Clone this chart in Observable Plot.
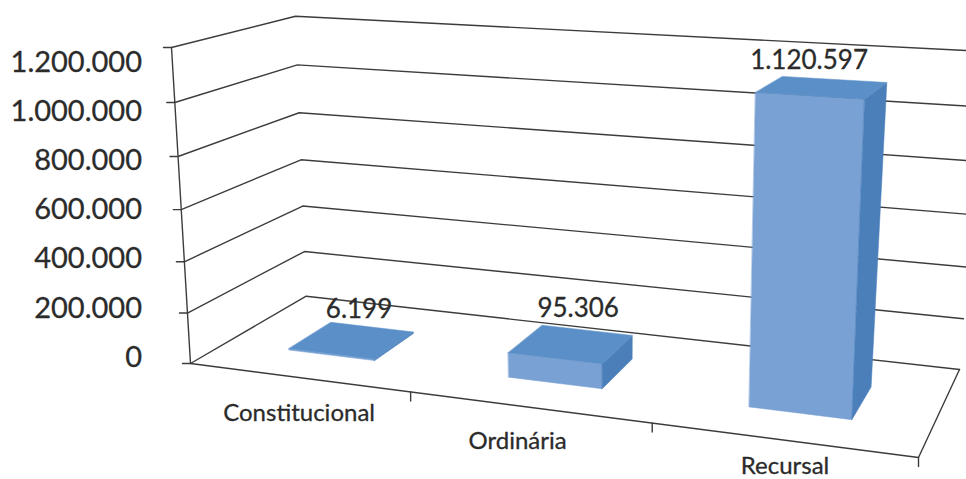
<!DOCTYPE html>
<html><head><meta charset="utf-8">
<style>html,body{margin:0;padding:0;background:#fff}svg{display:block}</style>
<script src="https://cdn.jsdelivr.net/npm/d3@7"></script>
<script src="https://cdn.jsdelivr.net/npm/@observablehq/plot@0.6"></script>
</head><body><div id="chart"></div>
<script>
const categories = ["Constitucional", "Ordinária", "Recursal"];
const values = [6199, 95306, 1120597];
const valueLabels = ["6.199", "95.306", "1.120.597"];
const axisValues = [0, 200000, 400000, 600000, 800000, 1000000, 1200000];
const axisLabels = ["0", "200.000", "400.000", "600.000", "800.000", "1.000.000", "1.200.000"];

// Scene: the 3D box of the chart seen in perspective (front/back, floor/ceiling corners)
const floorQuad = [[190,363],[918,457],[959,369],[305.7,295.7]];
const ceilQuad  = [[171,47],[935,93],[984,51],[295,15.7]];
const vMax = 1200000, vWarp = 0.053;
const barU = [0.3, 0.7], barW = [0.29, 0.67];
const valueLabelShift = [[7,-30],[7,-35],[-13,-27]];
const catLabelShift = [[1,36],[-11,34],[3,26]];

function homography(q) {
  const [[x0,y0],[x1,y1],[x2,y2],[x3,y3]] = q;
  const dx1=x1-x2, dx2=x3-x2, sx=x0-x1+x2-x3, dy1=y1-y2, dy2=y3-y2, sy=y0-y1+y2-y3;
  const det=dx1*dy2-dx2*dy1, g=(sx*dy2-dx2*sy)/det, h=(dx1*sy-sx*dy1)/det;
  const a=x1-x0+g*x1, b=x3-x0+h*x3, d=y1-y0+g*y1, e=y3-y0+h*y3;
  return (u,w)=>{const m=g*u+h*w+1; return [(a*u+b*w+x0)/m,(d*u+e*w+y0)/m];};
}
const hFloor = homography(floorQuad), hCeil = homography(ceilQuad);
function project(u, value, w) {
  const t = value/vMax, k = t/(1+vWarp*(1-t));
  const a = hFloor(u,w), b = hCeil(u,w);
  return [a[0]+(b[0]-a[0])*k, a[1]+(b[1]-a[1])*k];
}
const pts = (list) => list.map(([x,y]) => ({x,y}));
const line = (list, o={}) => Plot.line(pts(list), {x:"x", y:"y", stroke:"#3c3c3c", strokeWidth:1.4, ...o});
const face = (list, fill) => Plot.line(pts(list), {x:"x", y:"y", fill, stroke:fill, strokeWidth:0.5, curve:"linear-closed"});

const n = categories.length;
const marks = [];
// gridlines on left and back walls, with ticks
for (const v of axisValues) {
  const a = project(0,v,0);
  marks.push(line([[a[0]-8,a[1]], a, project(0,v,1), project(1,v,1)]));
}
marks.push(line([project(0,0,0), project(0,vMax,0)]));
const fr = project(1,0,0);
marks.push(line([project(0,0,0), fr, project(1,0,1)]));
for (let i=1;i<=n;i++){ const p = project(i/n,0,0); marks.push(line([p,[p[0],p[1]+9]])); }
// bars
values.forEach((v,i)=>{
  const u0=(i+barU[0])/n, u1=(i+barU[1])/n, w0=barW[0], w1=barW[1];
  marks.push(face([project(u0,0,w0),project(u1,0,w0),project(u1,v,w0),project(u0,v,w0)],"#79a1d4"));
  marks.push(face([project(u1,0,w0),project(u1,0,w1),project(u1,v,w1),project(u1,v,w0)],"#4a7fba"));
  marks.push(face([project(u0,v,w0),project(u1,v,w0),project(u1,v,w1),project(u0,v,w1)],"#5a8fc7"));
});
// text
const font = {fontFamily:"Lato, 'Noto Sans', sans-serif", fill:"#2b2b2b", stroke:"#2b2b2b", strokeWidth:0.3};
const yLabel = d3.scaleLinear([0,vMax],[357,62]);
marks.push(Plot.text(axisValues.map((v,i)=>({x:141.5,y:yLabel(v),t:axisLabels[i]})),
  {x:"x",y:"y",text:"t",textAnchor:"end",fontSize:29,...font}));
marks.push(Plot.text(values.map((v,i)=>{
  const c=project((i+(barU[0]+barU[1])/2)/n,v,(barW[0]+barW[1])/2);
  return {x:c[0]+valueLabelShift[i][0],y:c[1]+valueLabelShift[i][1],t:valueLabels[i]};
}),{x:"x",y:"y",text:"t",fontSize:26,...font}));
marks.push(Plot.text(categories.map((c,i)=>{
  const p=project((i+0.5)/n,0,0);
  return {x:p[0]+catLabelShift[i][0],y:p[1]+catLabelShift[i][1],t:c};
}),{x:"x",y:"y",text:"t",fontSize:24,...font}));

document.getElementById("chart").append(Plot.plot({
  width:966,height:479,margin:0,
  style:{background:"#fff"},
  x:{domain:[0,966],range:[0,966],axis:null},
  y:{domain:[0,479],range:[0,479],axis:null},
  marks
}));
</script></body></html>
